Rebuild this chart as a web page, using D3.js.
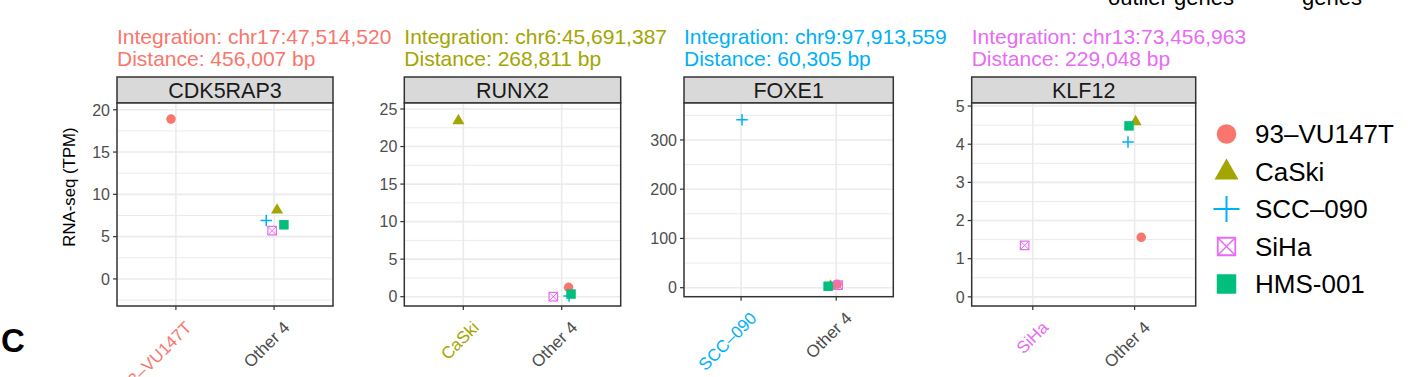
<!DOCTYPE html>
<html>
<head>
<meta charset="utf-8">
<script src="https://cdn.jsdelivr.net/npm/d3@7"></script>
<style>
  html, body { margin: 0; padding: 0; background: #fff; }
  svg { display: block; }
  text { font-family: "Liberation Sans", Arial, Helvetica, sans-serif; }
</style>
</head>
<body>
<svg id="chart" width="1417" height="377"></svg>
<script>
// ---------------- DATA ----------------
const samples = ["93\u2013VU147T", "CaSki", "SCC\u2013090", "SiHa", "HMS-001"];
const sampleColors = ["#F8766D", "#A3A500", "#00B0F6", "#E76BF3", "#00BF7D"];
const sampleShapes = ["circle", "triangle", "cross", "squareX", "square"];

const genes = ["CDK5RAP3", "RUNX2", "FOXE1", "KLF12"];
const outlierIndex = [0, 1, 2, 3];               // which sample is the outlier in each panel
const outlierLabels = ["93\u2013VU147T", "CaSki", "SCC\u2013090", "SiHa"];
const otherLabel = "Other 4";
const integrationSites = ["chr17:47,514,520", "chr6:45,691,387", "chr9:97,913,559", "chr13:73,456,963"];
const distances = ["456,007", "268,811", "60,305", "229,048"];

// TPM values, one row per gene, in sample order
const tpmCDK5RAP3 = [18.9, 8.2, 6.9, 5.7, 6.4];
const tpmRUNX2    = [1.25, 23.5, 0.1, 0.0, 0.35];
const tpmFOXE1    = [7, 4, 341, 5, 3];
const tpmKLF12    = [1.56, 4.6, 4.06, 1.35, 4.48];
const tpmValues = [tpmCDK5RAP3, tpmRUNX2, tpmFOXE1, tpmKLF12];

// horizontal jitter (in category units), sample order
const jitterCDK5RAP3 = [-0.05, 0.03, -0.08, -0.02, 0.10];
const jitterRUNX2    = [0.07, -0.05, 0.075, -0.085, 0.095];
const jitterFOXE1    = [0.01, -0.06, 0.01, 0.02, -0.085];
const jitterKLF12    = [0.065, 0.01, -0.065, -0.08, -0.055];
const jitters = [jitterCDK5RAP3, jitterRUNX2, jitterFOXE1, jitterKLF12];

// y axis ticks and limits
const yTicksCDK5RAP3 = [0, 5, 10, 15, 20];
const yTicksRUNX2    = [0, 5, 10, 15, 20, 25];
const yTicksFOXE1    = [0, 100, 200, 300];
const yTicksKLF12    = [0, 1, 2, 3, 4, 5];
const yTicks = [yTicksCDK5RAP3, yTicksRUNX2, yTicksFOXE1, yTicksKLF12];
const yLimits = [[-3.2, 20.8], [-1.24, 25.8], [-18.3, 375], [-0.24, 5.08]];

const yTitle = "RNA-seq (TPM)";
const panelLetter = "C";
const topTexts = ["outlier genes", "genes"];

// ---------------- LAYOUT ----------------
const layout = {
  left:   [117, 404.3, 684, 971.7],
  right:  [333, 620.7, 893.3, 1195.7],
  bottom: [306, 306, 296.7, 306],
  plotTop: 103,
  stripTop: 77
};

const svg = d3.select("#chart");
const border = "#333333";
const gridCol = "#EBEBEB";

function symbolPath(shape, size) {
  const s = size;
  switch (shape) {
    case "circle":
      return d3.symbol(d3.symbolCircle, Math.PI * (s / 2) * (s / 2))();
    case "triangle": {
      const h = s * Math.sqrt(3) / 2;
      return `M0,${-h * 0.62}L${s / 2},${h * 0.38}L${-s / 2},${h * 0.38}Z`;
    }
    case "cross":
      return `M${-s / 2},0H${s / 2}M0,${-s / 2}V${s / 2}`;
    case "squareX":
    case "square":
      return `M${-s / 2},${-s / 2}H${s / 2}V${s / 2}H${-s / 2}Z`;
  }
}

function drawSymbol(g, shape, color, size, sw) {
  if (shape === "cross") {
    g.append("path").attr("d", symbolPath(shape, size))
      .attr("fill", "none").attr("stroke", color).attr("stroke-width", sw);
  } else if (shape === "squareX") {
    const s = size;
    g.append("path").attr("d", symbolPath(shape, size))
      .attr("fill", "none").attr("stroke", color).attr("stroke-width", sw);
    g.append("path").attr("d", `M${-s / 2},${-s / 2}L${s / 2},${s / 2}M${s / 2},${-s / 2}L${-s / 2},${s / 2}`)
      .attr("fill", "none").attr("stroke", color).attr("stroke-width", sw * 0.8);
  } else {
    g.append("path").attr("d", symbolPath(shape, size)).attr("fill", color);
  }
}

const plotSizes = { circle: 9.5, triangle: 12, cross: 11.5, squareX: 8.5, square: 9.5 };
const plotStroke = { cross: 1.5, squareX: 1.2 };

genes.forEach((gene, p) => {
  const L = layout.left[p], R = layout.right[p], B = layout.bottom[p], T = layout.plotTop;
  const oi = outlierIndex[p];
  const cats = [outlierLabels[p], otherLabel];
  const x = d3.scalePoint().domain(cats).range([L, R]).padding(0.6);
  const step = x.step();
  const y = d3.scaleLinear().domain(yLimits[p]).range([B, T]);
  const g = svg.append("g");

  // title
  const titleColor = sampleColors[oi];
  g.append("text").attr("x", L).attr("y", 44).attr("fill", titleColor)
    .attr("font-size", 21).text("Integration: " + integrationSites[p]);
  g.append("text").attr("x", L).attr("y", 66).attr("fill", titleColor)
    .attr("font-size", 21).text("Distance: " + distances[p] + " bp");

  // strip
  g.append("rect").attr("x", L).attr("y", layout.stripTop).attr("width", R - L)
    .attr("height", T - layout.stripTop).attr("fill", "#D9D9D9")
    .attr("stroke", border).attr("stroke-width", 1.5);
  g.append("text").attr("x", (L + R) / 2).attr("y", (T + layout.stripTop) / 2)
    .attr("dy", "0.36em").attr("text-anchor", "middle").attr("font-size", 21.5)
    .attr("fill", "#1A1A1A").text(gene);

  // panel background
  g.append("rect").attr("x", L).attr("y", T).attr("width", R - L).attr("height", B - T).attr("fill", "#fff");

  // minor gridlines
  const tk = yTicks[p];
  const stepY = tk[1] - tk[0];
  const minor = [];
  for (let v = tk[0] - stepY / 2; v <= tk[tk.length - 1] + stepY; v += stepY) {
    if (v >= yLimits[p][0] && v <= yLimits[p][1]) minor.push(v);
  }
  g.selectAll(".minor").data(minor).enter().append("line")
    .attr("x1", L).attr("x2", R).attr("y1", d => y(d)).attr("y2", d => y(d))
    .attr("stroke", gridCol).attr("stroke-width", 1);
  // major gridlines
  g.selectAll(".major").data(tk).enter().append("line")
    .attr("x1", L).attr("x2", R).attr("y1", d => y(d)).attr("y2", d => y(d))
    .attr("stroke", gridCol).attr("stroke-width", 1.6);
  g.selectAll(".vmajor").data(cats).enter().append("line")
    .attr("x1", d => x(d)).attr("x2", d => x(d)).attr("y1", T).attr("y2", B)
    .attr("stroke", gridCol).attr("stroke-width", 1.6);

  // points
  const pts = samples.map((s, i) => ({
    i, s,
    cat: i === oi ? cats[0] : cats[1],
    v: tpmValues[p][i],
    j: jitters[p][i]
  }));
  pts.forEach(d => {
    const pg = g.append("g").attr("transform", `translate(${x(d.cat) + d.j * step},${y(d.v)})`);
    drawSymbol(pg, sampleShapes[d.i], sampleColors[d.i], plotSizes[sampleShapes[d.i]], plotStroke[sampleShapes[d.i]] || 1);
  });

  // panel border
  g.append("rect").attr("x", L).attr("y", T).attr("width", R - L).attr("height", B - T)
    .attr("fill", "none").attr("stroke", border).attr("stroke-width", 1.5);

  // y axis ticks + labels
  g.selectAll(".ytick").data(tk).enter().append("line")
    .attr("x1", L - 4).attr("x2", L).attr("y1", d => y(d)).attr("y2", d => y(d))
    .attr("stroke", border).attr("stroke-width", 1.2);
  g.selectAll(".ylab").data(tk).enter().append("text")
    .attr("x", L - 7).attr("y", d => y(d)).attr("dy", "0.36em")
    .attr("text-anchor", "end").attr("font-size", 16).attr("fill", "#4D4D4D")
    .text(d => d);

  // x axis ticks + labels
  g.selectAll(".xtick").data(cats).enter().append("line")
    .attr("x1", d => x(d)).attr("x2", d => x(d)).attr("y1", B).attr("y2", B + 4)
    .attr("stroke", border).attr("stroke-width", 1.2);
  g.selectAll(".xlab").data(cats).enter().append("text")
    .attr("transform", d => `translate(${x(d) + 8},${B + 14}) rotate(-45)`)
    .attr("dy", "0.72em").attr("text-anchor", "end").attr("font-size", 17)
    .attr("fill", (d, i) => i === 0 ? sampleColors[oi] : "#4D4D4D")
    .text(d => d);
});

// y axis title
svg.append("text").attr("transform", "translate(75,187) rotate(-90)")
  .attr("text-anchor", "middle").attr("font-size", 16.8).attr("fill", "#000").text(yTitle);

// panel letter
svg.append("text").attr("x", 1).attr("y", 352).attr("font-size", 33)
  .attr("font-weight", "bold").attr("fill", "#000").text(panelLetter);

// clipped texts from the row above
svg.append("text").attr("x", 1108).attr("y", 4.5).attr("font-size", 22).attr("fill", "#000").text(topTexts[0]);
svg.append("text").attr("x", 1302).attr("y", 4.5).attr("font-size", 22).attr("fill", "#000").text(topTexts[1]);

// legend
const legY = d3.scalePoint().domain(samples).range([134, 284]);
const legSizes = { circle: 19.5, triangle: 24, cross: 26, squareX: 17.5, square: 19.5 };
const legStroke = { cross: 2, squareX: 1.8 };
samples.forEach((s, i) => {
  const lg = svg.append("g").attr("transform", `translate(1226.5,${legY(s)})`);
  drawSymbol(lg, sampleShapes[i], sampleColors[i], legSizes[sampleShapes[i]], legStroke[sampleShapes[i]] || 1);
  svg.append("text").attr("x", 1255).attr("y", legY(s)).attr("dy", "0.36em")
    .attr("font-size", 26).attr("fill", "#000").text(s);
});
</script>
</body>
</html>
